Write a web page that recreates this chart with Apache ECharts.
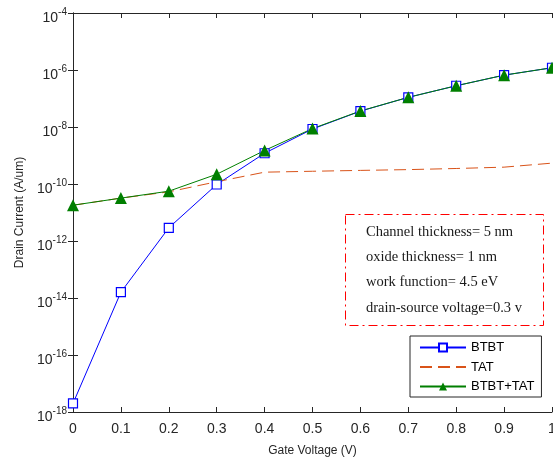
<!DOCTYPE html>
<html>
<head>
<meta charset="utf-8">
<script src="https://cdn.jsdelivr.net/npm/echarts@6/dist/echarts.min.js"></script>
<style>
  html, body { margin: 0; padding: 0; background: #fff; }
  #main { width: 553px; height: 459px; }
</style>
</head>
<body>
<div id="main"></div>
<script>
// gate voltage (V)
var gateVoltage = [0, 0.1, 0.2, 0.3, 0.4, 0.5, 0.6, 0.7, 0.8, 0.9, 1.0];
// drain current (A/um)
var btbt    = [2.0e-18, 1.6e-14, 2.9e-12, 9.6e-11, 1.2e-9, 8.5e-9, 3.6e-8, 1.1e-7, 2.8e-7, 6.6e-7, 1.2e-6];
var tat     = [1.8e-11, 3.2e-11, 5.3e-11, 1.2e-10, 2.6e-10, 2.8e-10, 3.0e-10, 3.2e-10, 3.5e-10, 3.9e-10, 5.4e-10];
var btbtTat = [1.8e-11, 3.2e-11, 5.6e-11, 2.2e-10, 1.5e-9, 8.8e-9, 3.65e-8, 1.1e-7, 2.8e-7, 6.6e-7, 1.2e-6];
var yTicks  = [1e-18, 1e-16, 1e-14, 1e-12, 1e-10, 1e-8, 1e-6, 1e-4];

var notes = [
  'Channel thickness= 5 nm',
  'oxide thickness= 1 nm',
  'work function= 4.5 eV',
  'drain-source voltage=0.3 v'
];

function pairs(arr) {
  return gateVoltage.map(function (x, i) { return [x, arr[i]]; });
}

var myChart = echarts.init(document.getElementById('main'), null, { renderer: 'canvas' });

var axisCol = '#262626';
var font = 'Liberation Sans, Arial, sans-serif';

// 注释框
var noteGraphics = [{
  type: 'rect',
  shape: { x: 345.5, y: 214.5, width: 198, height: 111 },
  style: { fill: '#fff', stroke: '#ff0000', lineWidth: 1, lineDash: [9, 4, 2, 4] },
  z: 10
}];
notes.forEach(function (t, i) {
  noteGraphics.push({
    type: 'text',
    x: 366,
    y: 232 + i * 25.3,
    style: {
      text: t,
      font: '14.5px "Liberation Serif", "Times New Roman", serif',
      fill: '#1a1a1a',
      verticalAlign: 'middle'
    },
    z: 11
  });
});

var option = {
  animation: false,
  backgroundColor: '#fff',
  grid: { left: 73, right: 1, top: 13, bottom: 47, outerBoundsMode: 'none', containLabel: false },
  legend: {
    orient: 'vertical',
    left: 410,
    top: 336,
    padding: [5, 7, 4, 9],
    itemGap: 6.5,
    itemWidth: 46,
    itemHeight: 10,
    backgroundColor: '#fff',
    borderColor: axisCol,
    borderWidth: 1,
    textStyle: { fontFamily: font, fontSize: 13, color: '#000' },
    data: ['BTBT', { name: 'TAT', itemStyle: { opacity: 0 } }, 'BTBT+TAT'],
    z: 12
  },
  xAxis: [{
    type: 'value',
    min: 0, max: 1, interval: 0.1,
    name: 'Gate Voltage (V)',
    nameLocation: 'middle',
    nameGap: 33,
    nameTextStyle: { fontFamily: font, fontSize: 12, color: axisCol },
    axisLine: { onZero: false, lineStyle: { color: axisCol, width: 1 } },
    axisTick: { inside: true, length: 5, lineStyle: { color: axisCol } },
    axisLabel: {
      margin: 10, fontFamily: font, fontSize: 14, color: axisCol,
      formatter: function (v) { return String(+v.toFixed(1)); }
    },
    splitLine: { show: false }
  }, {
    type: 'value', position: 'top',
    min: 0, max: 1, interval: 0.1,
    axisLine: { onZero: false, lineStyle: { color: axisCol, width: 1 } },
    axisTick: { inside: true, length: 5, lineStyle: { color: axisCol } },
    axisLabel: { show: false },
    splitLine: { show: false }
  }],
  yAxis: [{
    type: 'log',
    logBase: 100,
    min: yTicks[0], max: yTicks[yTicks.length - 1],
    name: 'Drain Current (A/um)',
    nameLocation: 'middle',
    nameGap: 44,
    nameTextStyle: { fontFamily: font, fontSize: 12, color: axisCol },
    axisLine: { lineStyle: { color: axisCol, width: 1 } },
    axisTick: { inside: true, length: 5, lineStyle: { color: axisCol } },
    minorTick: { show: false },
    axisLabel: {
      margin: 6,
      formatter: function (v) {
        var e = Math.round(Math.log10(v));
        return '{b|10}{s|' + e + '}';
      },
      rich: {
        b: { fontFamily: font, fontSize: 14, color: axisCol, padding: [10, 0, 0, 0] },
        s: { fontFamily: font, fontSize: 10, color: axisCol, padding: [0, 0, 2, 0] }
      }
    },
    splitLine: { show: false }
  }, {
    type: 'log',
    logBase: 100,
    position: 'right',
    min: yTicks[0], max: yTicks[yTicks.length - 1],
    axisLine: { lineStyle: { color: axisCol, width: 1 } },
    axisTick: { inside: true, length: 5, lineStyle: { color: axisCol } },
    axisLabel: { show: false },
    splitLine: { show: false }
  }],
  series: [{
    name: 'BTBT',
    type: 'line',
    data: pairs(btbt),
    symbol: 'rect',
    symbolSize: 9,
    color: '#0000ff',
    lineStyle: { color: '#0000ff', width: 1 },
    itemStyle: { color: '#fff', borderColor: '#0000ff', borderWidth: 1.2 },
    clip: false
  }, {
    name: 'TAT',
    type: 'line',
    data: pairs(tat),
    symbol: 'none',
    color: '#D95319',
    lineStyle: { color: '#D95319', width: 1, type: [12, 6] },
    clip: false
  }, {
    name: 'BTBT+TAT',
    type: 'line',
    data: pairs(btbtTat),
    symbol: 'triangle',
    symbolSize: 12,
    color: '#007f00',
    lineStyle: { color: '#007f00', width: 1 },
    itemStyle: { color: '#007f00' },
    clip: false
  }],
  graphic: noteGraphics
};

myChart.setOption(option);
</script>
</body>
</html>
